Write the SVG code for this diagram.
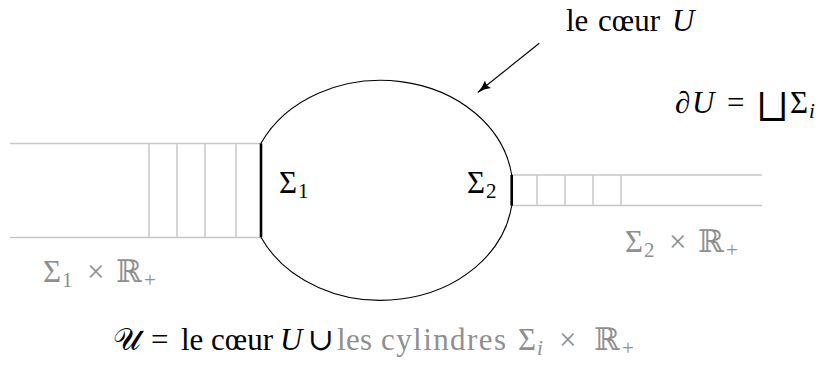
<svg xmlns="http://www.w3.org/2000/svg" width="822" height="365" viewBox="0 0 822 365">
<style>
.t{font-family:"Liberation Serif","DejaVu Serif",serif;font-size:31px;fill:#000}
.g{fill:#8f8f8f}
.it{font-style:italic}
.sub{font-size:21px}
.op{font-family:"DejaVu Serif","DejaVu Sans",serif;font-weight:normal}
.cyl{stroke:#c8c8c8;stroke-width:1.5;fill:none}
.bd{stroke:#000;stroke-width:2.6;fill:none}
.core{stroke:#000;stroke-width:1.1;fill:none}
</style>
<defs>
<marker id="ah" viewBox="0 0 14 10" refX="13" refY="5" markerWidth="14" markerHeight="10" markerUnits="userSpaceOnUse" orient="auto">
<path d="M0,0 Q6,4 14,5 Q6,6 0,10 Q3,5 0,0 Z" fill="#000"/>
</marker>
</defs>
<rect width="822" height="365" fill="#fff"/>
<g id="cylinder1">
<path class="cyl" d="M10,143.5 H261 M10,237.5 H261 M149,143.5 V237.5 M177,143.5 V237.5 M205,143.5 V237.5 M236,143.5 V237.5"/>
<text class="t g" y="282"><tspan x="43">Σ</tspan><tspan class="sub" x="62" dy="5">1</tspan><tspan x="87" dy="-5">×</tspan><tspan x="116">ℝ</tspan><tspan class="sub" x="144" dy="5">+</tspan></text>
</g>
<g id="cylinder2">
<path class="cyl" d="M512,175 H762 M512,205.5 H762 M537,175 V205.5 M565,175 V205.5 M593,175 V205.5 M621,175 V205.5"/>
<text class="t g" y="252"><tspan x="625">Σ</tspan><tspan class="sub" x="644" dy="5">2</tspan><tspan x="669" dy="-5">×</tspan><tspan x="698">ℝ</tspan><tspan class="sub" x="726" dy="5">+</tspan></text>
</g>
<g id="core">
<path class="core" d="M261,143.3 A132.1,109 0 0 1 511.7,175 M511.7,205.7 A132.1,109 0 0 1 261,237.3"/>
</g>
<g id="sigma1">
<line class="bd" x1="261" y1="143.3" x2="261" y2="237.3"/>
<text class="t" y="193"><tspan x="279">Σ</tspan><tspan class="sub" x="298" dy="5">1</tspan></text>
</g>
<g id="sigma2">
<line class="bd" x1="511.7" y1="175" x2="511.7" y2="205.7"/>
<text class="t" y="193"><tspan x="467">Σ</tspan><tspan class="sub" x="486" dy="5">2</tspan></text>
</g>
<g id="label-coeur">
<text class="t" y="31"><tspan x="566">le</tspan><tspan x="598">cœur</tspan><tspan class="it" x="672">U</tspan></text>
</g>
<g id="label-boundary">
<text class="t" y="113"><tspan x="675">∂</tspan><tspan class="it" x="692">U</tspan><tspan x="727">=</tspan><tspan class="op" x="758" dy="5" style="font-size:36px">⨆</tspan><tspan x="790" dy="-5">Σ</tspan><tspan class="sub it" x="809" dy="5">i</tspan></text>
</g>
<g id="connectors">
<line x1="539.3" y1="43.3" x2="478" y2="92.3" stroke="#000" stroke-width="1.1" marker-end="url(#ah)"/>
</g>
<g id="caption">
<text class="t" y="350"><tspan x="113">𝒰</tspan><tspan x="151">=</tspan><tspan x="181">le</tspan><tspan x="211">cœur</tspan><tspan class="it" x="280">U</tspan><tspan x="308">∪</tspan><tspan class="g" x="337" textLength="35">les</tspan><tspan class="g" x="381" textLength="125">cylindres</tspan><tspan class="g" x="518">Σ</tspan><tspan class="g sub it" x="537" dy="5">i</tspan><tspan class="g" x="559" dy="-5">×</tspan><tspan class="g" x="594">ℝ</tspan><tspan class="g sub" x="622" dy="5">+</tspan></text>
</g>
</svg>
